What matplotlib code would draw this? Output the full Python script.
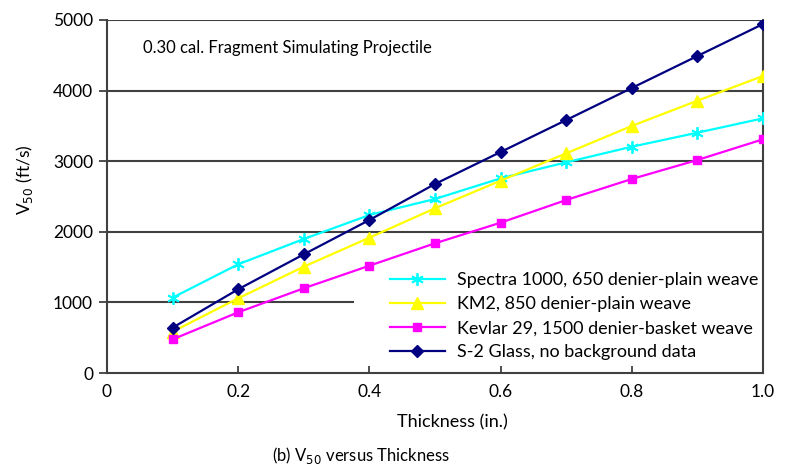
import matplotlib
matplotlib.use("Agg")
import matplotlib.pyplot as plt

plt.rcParams['font.family'] = ['Lato', 'DejaVu Sans']

thickness = [0.1, 0.2, 0.3, 0.4, 0.5, 0.6, 0.7, 0.8, 0.9, 1.0]
spectra = [1067, 1540, 1898, 2238, 2465, 2757, 2984, 3205, 3404, 3607]
km2 = [585, 1058, 1506, 1917, 2333, 2724, 3111, 3499, 3857, 4207]
kevlar = [477, 860, 1200, 1520, 1837, 2129, 2450, 2748, 3017, 3310]
s2glass = [642, 1186, 1681, 2167, 2677, 3130, 3583, 4037, 4490, 4943]

labels = ["Spectra 1000, 650 denier-plain weave",
          "KM2, 850 denier-plain weave",
          "Kevlar 29, 1500 denier-basket weave",
          "S-2 Glass, no background data"]
yticks = [0, 1000, 2000, 3000, 4000, 5000]
xticks = [0, 0.2, 0.4, 0.6, 0.8, 1.0]
xticklabels = ["0", "0.2", "0.4", "0.6", "0.8", "1.0"]

fig = plt.figure(figsize=(7.88, 4.65), dpi=100)
ax = fig.add_axes([107/788, 1-373/465, (763-107)/788, (373-20)/465])

gc = '#404040'
for v in [2000, 3000, 4000, 5000]:
    ax.axhline(v, color=gc, lw=1.5, zorder=1)
ax.axhline(1000, xmin=0, xmax=(353-107)/(763-107), color=gc, lw=1.5, zorder=1)

ax.plot(thickness, spectra, color='#00FFFF', marker=(6, 2, 0), ms=9, mew=1.3, lw=1.6, label=labels[0], zorder=3)
ax.plot(thickness, km2, color='#FFFF00', marker='^', ms=8, lw=1.6, label=labels[1], zorder=3)
ax.plot(thickness, kevlar, color='#FF00FF', marker='s', ms=5.5, lw=1.6, label=labels[2], zorder=3)
ax.plot(thickness, s2glass, color='#000080', marker='D', ms=6, lw=1.6, label=labels[3], zorder=4)

ax.set_xlim(0, 1.0)
ax.set_ylim(0, 5000)
ax.set_xticks(xticks)
ax.set_xticklabels(xticklabels)
ax.set_yticks(yticks)
for s in ax.spines.values():
    s.set_color(gc)
    s.set_linewidth(1.5)
ax.spines['top'].set_visible(False)
ax.tick_params(axis='y', direction='out', length=6, width=1.3, color=gc, labelsize=12.5, pad=4)
ax.tick_params(axis='x', direction='in', length=5, width=1.3, color=gc, labelsize=12.5, pad=8)

ax.set_xlabel("Thickness (in.)", fontsize=13)
ax.xaxis.set_label_coords((452-107)/656, -(422-373)/353)
ax.xaxis.label.set_va('center')
ax.set_ylabel("V$_{50}$ (ft/s)", fontsize=12.5)
ax.yaxis.set_label_coords((25-107)/656, (373-180)/353)
ax.yaxis.label.set_va('center')

ax.text((143-107)/656, (373-48)/353, "0.30 cal. Fragment Simulating Projectile", transform=ax.transAxes,
        fontsize=12, va='center', ha='left')

leg = ax.legend(loc='upper left', bbox_to_anchor=(0.41, 0.327), frameon=False,
                fontsize=13, handlelength=3.0, labelspacing=0.45, handletextpad=0.7,
                borderpad=0.3)

fig.text(361/788, 1-455/465, "(b) V$_{50}$ versus Thickness", fontsize=12, ha='center', va='center')

fig.savefig("out.png", dpi=100)
